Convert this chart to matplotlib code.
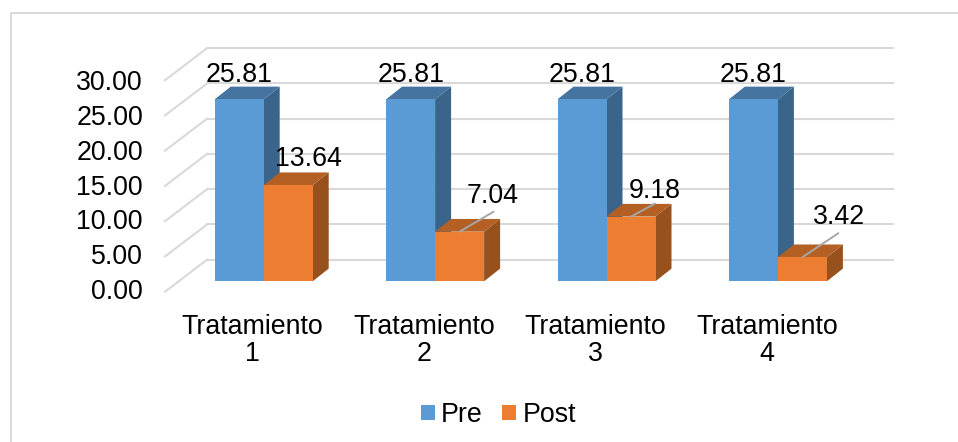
import matplotlib
import matplotlib.pyplot as plt
from matplotlib.patches import Polygon, Rectangle

matplotlib.use("agg")

categories = ["Tratamiento\n1", "Tratamiento\n2", "Tratamiento\n3", "Tratamiento\n4"]
pre_values = [25.81, 25.81, 25.81, 25.81]
post_values = [13.64, 7.04, 9.18, 3.42]
y_ticks = [0, 5, 10, 15, 20, 25, 30]
series_labels = ["Pre", "Post"]

FIG_W, FIG_H = 958, 442
# pixels per unit along each axis of the front plane
X_UNIT = 171.4
Y_UNIT = 7.05
# oblique depth of the floor and of the bars, in axis units
WALL_DX, WALL_DY = 42 / X_UNIT, 32 / Y_UNIT
BAR_OFF_DX, BAR_OFF_DY = 13 / X_UNIT, 10.4 / Y_UNIT
BAR_DX, BAR_DY = 16 / X_UNIT, 12.7 / Y_UNIT
BAR_WIDTH = 49 / X_UNIT
# tick labels sit slightly tighter than the gridlines
TICK_LABEL_SCALE = 0.985

COLORS = {
    "Pre": ("#5B9BD5", "#44749F", "#3A6489"),
    "Post": ("#ED7D31", "#B46024", "#97511D"),
}
GRID_COLOR = "#D9D9D9"
FONT_SIZE = 19.3

plt.rcParams["font.family"] = ["Liberation Sans", "DejaVu Sans"]

fig = plt.figure(figsize=(FIG_W / 100, FIG_H / 100), dpi=100)
left, bottom_px = 165, 291.7
ax = fig.add_axes(
    [
        left / FIG_W,
        (FIG_H - bottom_px) / FIG_H,
        X_UNIT * len(categories) / FIG_W,
        30 * Y_UNIT / FIG_H,
    ]
)
ax.set_xlim(0, len(categories))
ax.set_ylim(0, 30)
ax.axis("off")

# chart frame, only the top and left edges show
fig.add_artist(
    plt.Line2D([11 / FIG_W, 11 / FIG_W, 958 / FIG_W], [0, 1 - 13 / FIG_H, 1 - 13 / FIG_H],
               color=GRID_COLOR, lw=1.4)
)

# back wall gridlines and the slanted lines on the side wall
for t in y_ticks:
    ax.plot([WALL_DX, len(categories) + WALL_DX], [t + WALL_DY] * 2,
            color=GRID_COLOR, lw=1.5, clip_on=False, zorder=1)
    ax.plot([0, WALL_DX], [t, t + WALL_DY],
            color=GRID_COLOR, lw=1.5, clip_on=False, zorder=1)
    ax.text(-22 / X_UNIT, t * TICK_LABEL_SCALE, f"{t:.2f}", ha="right", va="center",
            fontsize=FONT_SIZE, color="black")


def draw_bar(x, value, name):
    front, top, side = COLORS[name]
    x0 = x + BAR_OFF_DX
    y0 = BAR_OFF_DY
    y1 = y0 + value
    x1 = x0 + BAR_WIDTH
    ax.add_patch(Polygon([(x1, y0), (x1 + BAR_DX, y0 + BAR_DY),
                          (x1 + BAR_DX, y1 + BAR_DY), (x1, y1)],
                         fc=side, ec="none", zorder=3, clip_on=False))
    ax.add_patch(Polygon([(x0, y1), (x0 + BAR_DX, y1 + BAR_DY),
                          (x1 + BAR_DX, y1 + BAR_DY), (x1, y1)],
                         fc=top, ec="none", zorder=3, clip_on=False))
    ax.add_patch(Rectangle((x0, y0), BAR_WIDTH, value, fc=front, ec="none",
                           zorder=3, clip_on=False))
    return x0 + BAR_WIDTH / 2, y1


# label offsets from the bar's top centre, in pixels; the shorter bars get a leader line
pre_offsets = [(0, 24)] * 4
post_offsets = [(20, 26), (33, 36), (24, 26), (37, 40)]
leaders = [False, True, True, True]
leader_ends = [None, (34, 20), (24, 13), (36, 24)]

for i, cat in enumerate(categories):
    center = i + 0.5
    xp, yp = draw_bar(center - BAR_WIDTH, pre_values[i], "Pre")
    ax.annotate(f"{pre_values[i]:.2f}", (xp, yp), xytext=pre_offsets[i],
                textcoords="offset pixels", ha="center", va="center",
                fontsize=FONT_SIZE, zorder=5, annotation_clip=False)

for i, cat in enumerate(categories):
    center = i + 0.5
    xq, yq = draw_bar(center, post_values[i], "Post")
    ax.annotate(f"{post_values[i]:.2f}", (xq, yq), xytext=post_offsets[i],
                textcoords="offset pixels", ha="center", va="center",
                fontsize=FONT_SIZE, zorder=5, annotation_clip=False)
    if leaders[i]:
        ax.annotate("", (xq, yq), xytext=leader_ends[i], textcoords="offset pixels",
                    arrowprops=dict(arrowstyle="-", color="#A6A6A6", lw=1.4,
                                    shrinkA=0, shrinkB=0),
                    zorder=5, annotation_clip=False)
    ax.text(center + 2 / X_UNIT, -3.1, cat, ha="center", va="top",
            fontsize=FONT_SIZE, linespacing=1.08, clip_on=False)

# legend
handles = [Rectangle((0, 0), 1, 1, fc=COLORS[n][0], ec="none") for n in series_labels]
fig.legend(handles, series_labels, loc="center", bbox_to_anchor=(498.5 / FIG_W, 1 - 415 / FIG_H),
           ncol=2, frameon=False, fontsize=FONT_SIZE, handlelength=0.53, handleheight=0.53,
           handletextpad=0.23, columnspacing=0.72, borderpad=0)

fig.savefig("out.png", dpi=100)
plt.close(fig)
